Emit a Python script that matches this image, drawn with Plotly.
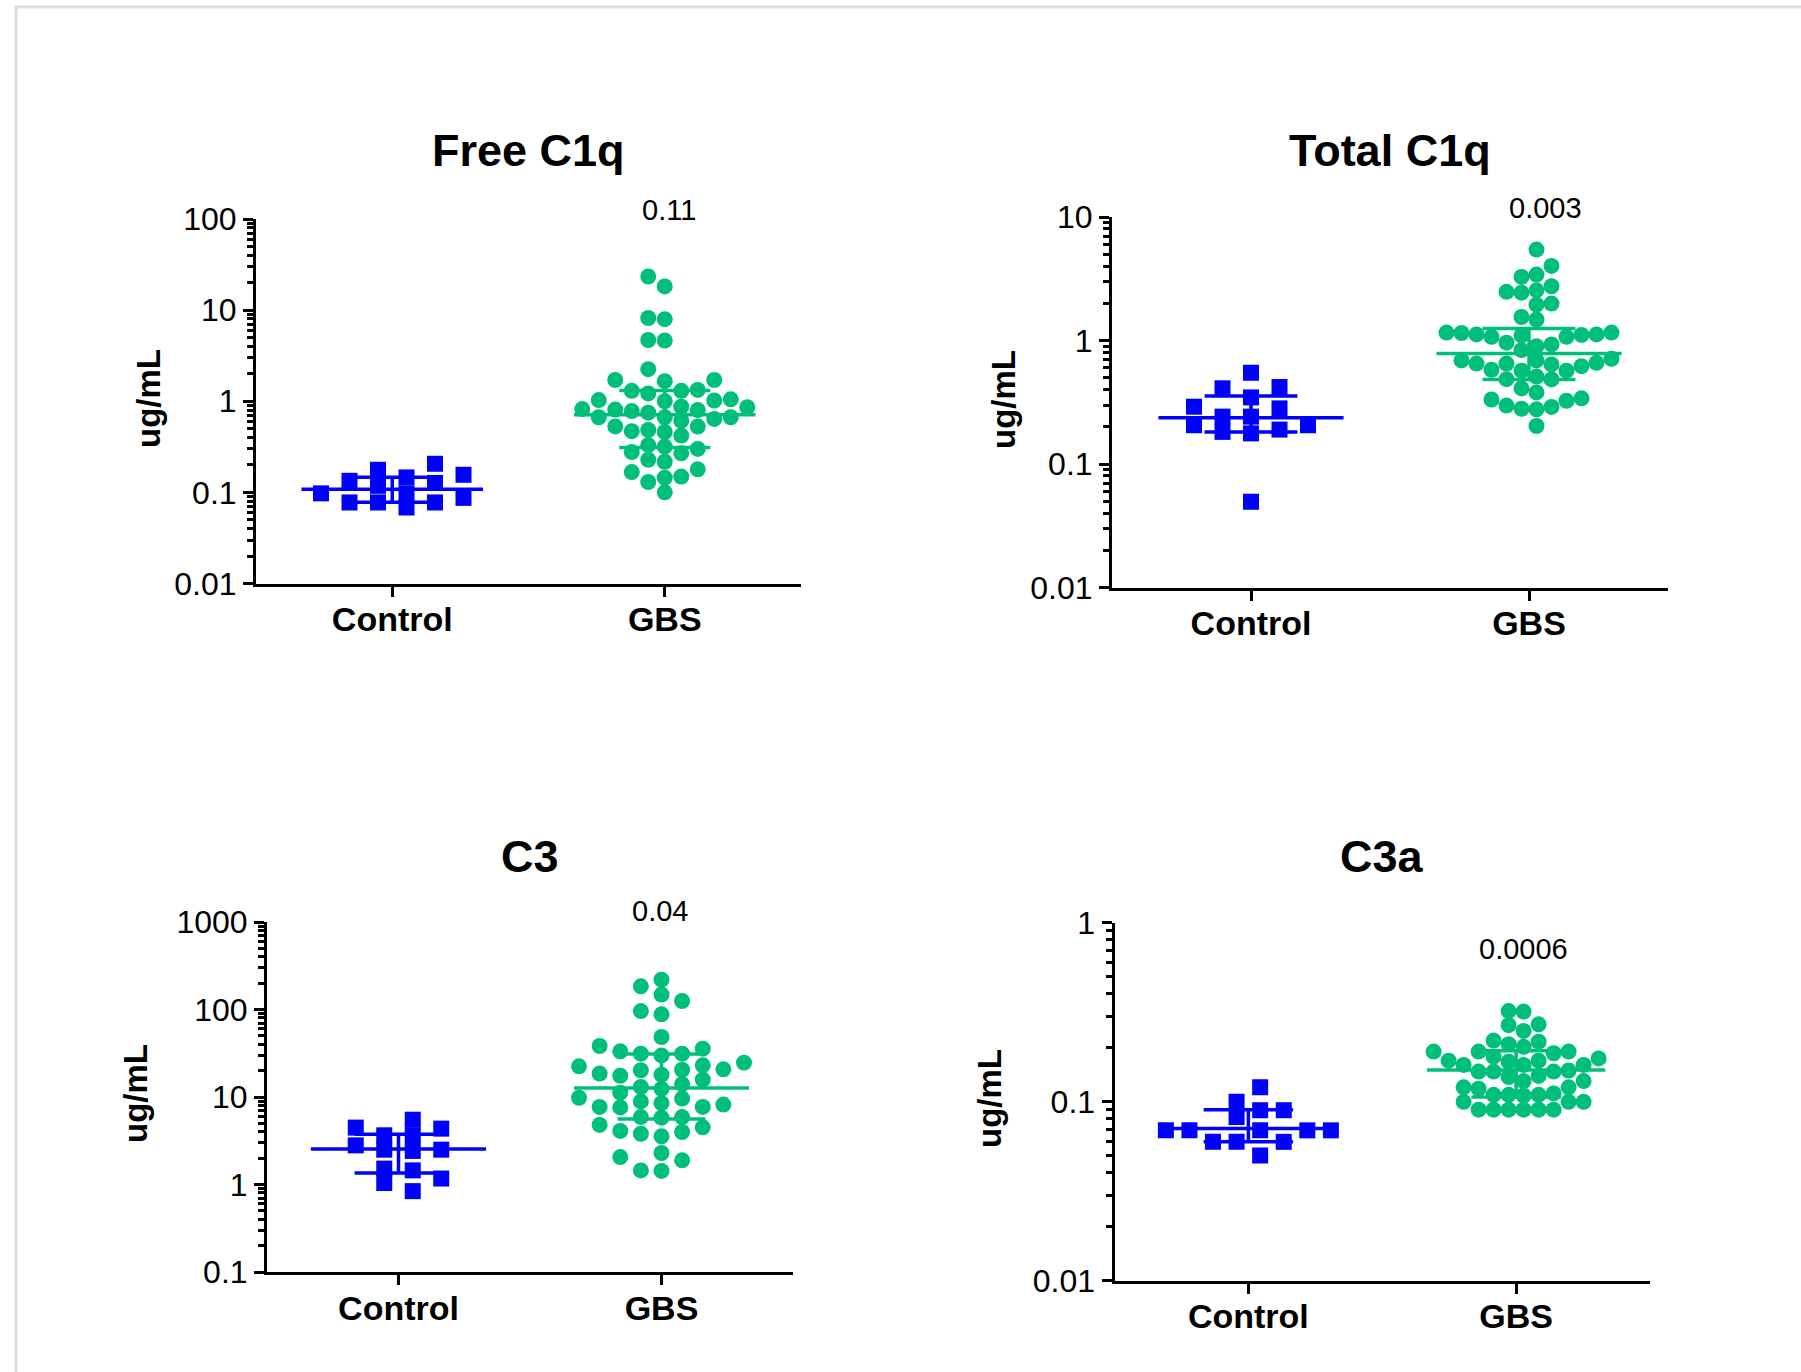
import numpy as np
import plotly.graph_objects as go

W, H = 1801, 1372

# ------------------------------------------------------------------ data
groups = ["Control", "GBS"]
panel_titles = ["Free C1q", "Total C1q", "C3", "C3a"]
p_values = ["0.11", "0.003", "0.04", "0.0006"]
y_label = "ug/mL"

free_c1q_control = [0.127, 0.0776, 0.156, 0.0975, 0.206, 0.134, 0.0776, 0.146,
                    0.0975, 0.177, 0.118, 0.0684, 0.087, 0.0776]
free_c1q_gbs = [23.4, 18.2, 7.96, 8.2, 4.64, 4.7, 2.25, 1.71, 1.66, 1.71, 1.33, 1.22,
                1.3, 1.3, 1.0, 1.02, 1.03, 1.05, 0.86, 0.82, 0.78, 0.87, 0.80, 0.75,
                0.81, 0.667, 0.667, 0.667, 0.64, 0.61, 0.527, 0.53, 0.484, 0.46, 0.47,
                0.42, 0.318, 0.33, 0.30, 0.268, 0.277, 0.217, 0.228, 0.179, 0.167,
                0.145, 0.149, 0.13, 0.10]

total_c1q_control = [0.291, 0.206, 0.41, 0.242, 0.182, 0.548, 0.42, 0.19, 0.0495,
                     0.346, 0.242, 0.177, 0.282, 0.206]
total_c1q_gbs = [5.45, 4.02, 3.27, 3.42, 2.55, 2.75, 2.48, 2.44, 1.95, 1.99, 1.48, 1.55,
                 1.15, 1.12, 1.16, 1.10, 1.11, 1.12, 1.07, 1.16, 1.07, 0.96, 0.93, 0.90,
                 0.836, 0.64, 0.69, 0.62, 0.66, 0.69, 0.65, 0.65, 0.71, 0.57, 0.57, 0.58,
                 0.484, 0.486, 0.51, 0.41, 0.38, 0.333, 0.34, 0.325, 0.277, 0.29, 0.297,
                 0.28, 0.203]

c3_control = [4.35, 2.8, 5.5, 3.65, 2.42, 1.45, 0.84, 2.5, 1.17, 4.47, 2.5, 1.04,
              3.65, 1.52]
c3_gbs = [219, 184, 148, 125, 96, 88, 48.5, 38.3, 35.7, 31.3, 31.3, 33.3, 29.9, 23.0,
          24.7, 20.5, 18.5, 22.4, 20.2, 20.7, 18.0, 17.5, 15.8, 14.0, 12.4, 13.0, 11.2,
          8.5, 8.9, 9.8, 7.7, 8.2, 7.6, 7.7, 9.6, 5.9, 5.9, 5.8, 4.8, 4.1, 4.5, 3.98,
          3.55, 3.8, 2.29, 2.06, 1.89, 1.43, 1.45]

c3a_control = [0.069, 0.069, 0.069, 0.050, 0.12, 0.0894, 0.0595, 0.0894, 0.0595,
               0.0996, 0.082, 0.0595, 0.069, 0.069]
c3a_gbs = [0.318, 0.32, 0.27, 0.267, 0.248, 0.219, 0.216, 0.209, 0.202, 0.19, 0.19,
           0.186, 0.19, 0.178, 0.169, 0.169, 0.174, 0.167, 0.16, 0.16, 0.16, 0.147,
           0.149, 0.147, 0.147, 0.139, 0.137, 0.13, 0.13, 0.12, 0.12, 0.118, 0.109,
           0.109, 0.111, 0.108, 0.109, 0.0996, 0.0996, 0.0996, 0.090, 0.090, 0.090,
           0.090, 0.090, 0.090]

# median and interquartile range  [Control, GBS]
medians = [[0.108, 0.71], [0.237, 0.785], [2.55, 12.7], [0.0706, 0.150]]
q1s = [[0.078, 0.31], [0.182, 0.484], [1.35, 5.6], [0.0595, 0.106]]
q3s = [[0.147, 1.31], [0.355, 1.25], [3.74, 31.0], [0.090, 0.192]]

# y-axis decade limits
y_limits = [[0.01, 100], [0.01, 10], [0.1, 1000], [0.01, 1]]

panel_data = [
    [free_c1q_control, free_c1q_gbs],
    [total_c1q_control, total_c1q_gbs],
    [c3_control, c3_gbs],
    [c3a_control, c3a_gbs],
]

# ------------------------------------------------------------------ style / layout
BLUE = "#0000FF"
GREEN = "#00BF7A"
colors = [BLUE, GREEN]
symbols = ["square", "circle"]
FONT = "Arial, 'Liberation Sans', Helvetica, sans-serif"

# plot-area geometry in pixels (left, right, top, bottom)
geom = [
    dict(x0=256, x1=801, yt=219, yb=583.5),
    dict(x0=1112, x1=1668, yt=217, yb=587.5),
    dict(x0=267, x1=793, yt=922, yb=1272),
    dict(x0=1114.5, x1=1650, yt=922.5, yb=1280.5),
]
title_pos = [(528, 151), (1390, 150), (530, 856), (1382, 856)]
pval_pos = [(669, 210), (1545, 208), (660, 911), (1523, 949)]
ylab_pos = [(148, 399), (1003, 399), (135, 1094), (989, 1098)]

MARK = 16
MED_HALF = 0.333
IQR_HALF = 0.167


def swarm_offsets(values, ppd, d_v=14.0, span_px=165.0, max_step=28.5):
    """Greedy column beeswarm in pixel space; returns horizontal pixel offsets."""
    py = np.log10(np.asarray(values, float)) * ppd
    order = np.argsort(py, kind="stable")
    cand = [0.0]
    for k in range(1, 80):
        cand += [-float(k), float(k)]
    occ = {}
    col = np.zeros(len(py))
    for i in order:
        for c in cand:
            if all(abs(py[i] - py[j]) >= d_v for j in occ.get(c, [])):
                occ.setdefault(c, []).append(i)
                col[i] = c
                break
    col = col - (col.max() + col.min()) / 2.0
    width = col.max() - col.min()
    step = max_step if width == 0 else min(max_step, span_px / width)
    return col * step


def px2x(px):
    return px / W


def px2y(py):
    return 1 - py / H


fig = go.Figure()
annotations = []

for p in range(4):
    g = geom[p]
    suffix = "" if p == 0 else str(p + 1)
    xname, yname = "x" + suffix, "y" + suffix
    lo, hi = y_limits[p]
    llo, lhi = np.log10(lo), np.log10(hi)
    ppd = (g["yb"] - g["yt"]) / (lhi - llo)      # pixels per decade
    ppu = (g["x1"] - g["x0"]) / 2.0                # pixels per x unit

    for gi in range(2):
        vals = np.asarray(panel_data[p][gi], float)
        offs = swarm_offsets(vals, ppd) / ppu
        fig.add_trace(go.Scatter(
            x=gi + offs, y=vals, mode="markers", xaxis=xname, yaxis=yname,
            marker=dict(symbol=symbols[gi], size=MARK, color=colors[gi],
                        line=dict(width=0)),
            showlegend=False, hoverinfo="skip"))
        med, q1, q3 = medians[p][gi], q1s[p][gi], q3s[p][gi]
        lx = [gi - MED_HALF, gi + MED_HALF, None,
              gi - IQR_HALF, gi + IQR_HALF, None,
              gi - IQR_HALF, gi + IQR_HALF, None,
              gi, gi]
        ly = [med, med, None, q1, q1, None, q3, q3, None, q1, q3]
        fig.add_trace(go.Scatter(
            x=lx, y=ly, mode="lines", xaxis=xname, yaxis=yname,
            line=dict(color=colors[gi], width=3.5),
            showlegend=False, hoverinfo="skip"))

    decades = [10.0 ** e for e in range(int(round(llo)), int(round(lhi)) + 1)]
    minors = [m * 10.0 ** e for e in range(int(round(llo)), int(round(lhi)))
              for m in range(2, 10)]

    fig.update_layout({
        "xaxis" + suffix: dict(
            domain=[px2x(g["x0"]), px2x(g["x1"])], anchor=yname, automargin=False,
            range=[-0.5, 1.5], tickmode="array", tickvals=[0, 1], ticktext=groups,
            ticks="outside", ticklen=10, tickwidth=3, tickcolor="black",
            ticklabelstandoff=-6,
            showline=True, linewidth=3, linecolor="black",
            showgrid=False, zeroline=False,
            tickfont=dict(family=FONT, size=34, color="black", weight="bold"),
        ),
        "yaxis" + suffix: dict(
            domain=[px2y(g["yb"]), px2y(g["yt"])], anchor=xname, automargin=False,
            type="log", range=[llo, lhi], tickmode="array", tickvals=decades,
            ticktext=[f"{v:g}" for v in decades],
            ticks="outside", ticklen=10, tickwidth=3, tickcolor="black",
            showline=True, linewidth=3, linecolor="black",
            showgrid=False, zeroline=False,
            tickfont=dict(family=FONT, size=32, color="black"),
            minor=dict(tickmode="array", tickvals=minors, ticks="outside",
                       ticklen=6, tickwidth=2.5, tickcolor="black", showgrid=False),
        ),
    })

    tx, ty = title_pos[p]
    annotations.append(dict(
        text=panel_titles[p], x=px2x(tx), y=px2y(ty), xref="paper", yref="paper",
        xanchor="center", yanchor="middle", showarrow=False,
        font=dict(family=FONT, size=45, color="black", weight="bold")))
    vx, vy = pval_pos[p]
    annotations.append(dict(
        text=p_values[p], x=px2x(vx), y=px2y(vy), xref="paper", yref="paper",
        xanchor="center", yanchor="middle", showarrow=False,
        font=dict(family=FONT, size=29, color="black")))
    lx_, ly_ = ylab_pos[p]
    annotations.append(dict(
        text=y_label, x=px2x(lx_), y=px2y(ly_), xref="paper", yref="paper",
        xanchor="center", yanchor="middle", showarrow=False, textangle=-90,
        font=dict(family=FONT, size=33, color="black", weight="bold")))

fig.update_layout(
    width=W, height=H, margin=dict(l=0, r=0, t=0, b=0, autoexpand=False),
    paper_bgcolor="white", plot_bgcolor="white",
    annotations=annotations,
    shapes=[dict(type="rect", xref="paper", yref="paper",
                 x0=px2x(16), y0=px2y(1400), x1=px2x(1830), y1=px2y(7),
                 line=dict(color="#DCDCDC", width=3), fillcolor="rgba(0,0,0,0)",
                 layer="below")],
)

fig.write_html("out.html")
